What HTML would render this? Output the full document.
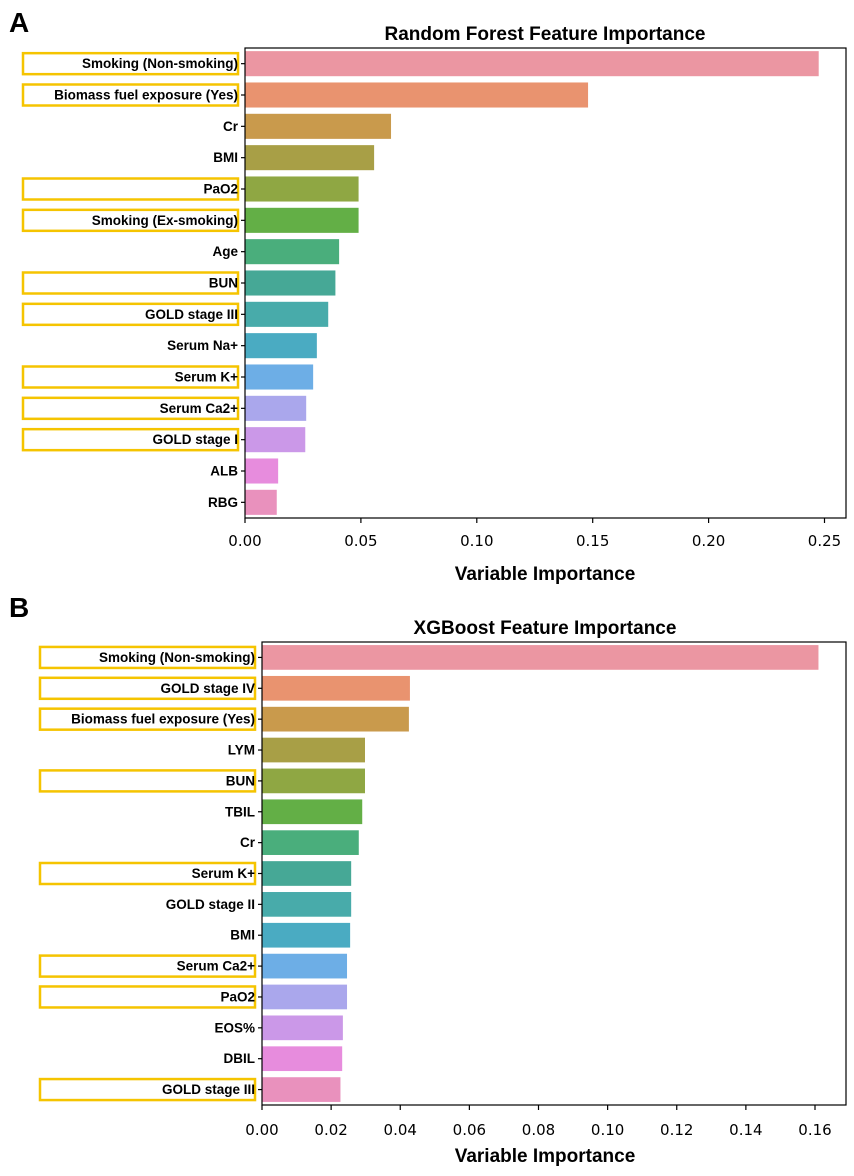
<!DOCTYPE html>
<html><head><meta charset="utf-8"><style>
body{margin:0;background:#fff;width:854px;height:1171px;overflow:hidden;font-family:"Liberation Sans",sans-serif}
</style></head><body>
<svg id="s" width="854" height="1171" xmlns="http://www.w3.org/2000/svg"></svg>
<script>
const catsA=["Smoking (Non-smoking)","Biomass fuel exposure (Yes)","Cr","BMI","PaO2","Smoking (Ex-smoking)","Age","BUN","GOLD stage III","Serum Na+","Serum K+","Serum Ca2+","GOLD stage I","ALB","RBG"];
const valsA=[0.2475,0.148,0.063,0.0557,0.049,0.049,0.0406,0.039,0.0359,0.031,0.0294,0.0264,0.026,0.0143,0.0137];
const hlA=[1,1,0,0,1,1,0,1,1,0,1,1,1,0,0];
const ticksA=["0.00","0.05","0.10","0.15","0.20","0.25"];
const tickValsA=[0,0.05,0.10,0.15,0.20,0.25];
const catsB=["Smoking (Non-smoking)","GOLD stage IV","Biomass fuel exposure (Yes)","LYM","BUN","TBIL","Cr","Serum K+","GOLD stage II","BMI","Serum Ca2+","PaO2","EOS%","DBIL","GOLD stage III"];
const valsB=[0.161,0.0428,0.0425,0.0298,0.0298,0.029,0.028,0.0258,0.0258,0.0255,0.0246,0.0246,0.0234,0.0232,0.0227];
const hlB=[1,1,1,0,1,0,0,1,0,0,1,1,0,0,1];
const ticksB=["0.00","0.02","0.04","0.06","0.08","0.10","0.12","0.14","0.16"];
const tickValsB=[0,0.02,0.04,0.06,0.08,0.10,0.12,0.14,0.16];
const colors=["#eb96a2","#e9936f","#c99a4c","#a89f46","#8fa743","#63af46","#4aae7c","#46a896","#48abaa","#4aabc2","#6daee6","#aaa7ec","#cb98e8","#e78cdd","#e991bd"];
const NS="http://www.w3.org/2000/svg";
const svg=document.getElementById('s');
function mk(t,a,txt){const e=document.createElementNS(NS,t);for(const k in a)e.setAttribute(k,a[k]);if(txt!==undefined)e.textContent=txt;svg.appendChild(e);return e;}
function panel(p){
  const n=p.cats.length, step=(p.bottom-p.top)/n;
  const x=v=>p.left+(v-p.min)/(p.max-p.min)*(p.xmaxPx-p.left);
  const y=i=>p.top+step*(i+0.5);
  let e=mk('text',{x:p.titleX,y:p.titleY,'text-anchor':'middle','font-size':'19','font-weight':'bold'},p.title);
  
  
  p.cats.forEach((c,i)=>{
    const r=mk('rect',{x:x(0),y:y(i)-step*0.4,width:x(p.vals[i])-x(0),height:step*0.8,fill:colors[i]});
    
    
    if(p.hl[i]){const b=mk('rect',{x:p.boxL,y:y(i)-10.5,width:p.left-7-p.boxL,height:21,fill:'none',stroke:'#f5c400','stroke-width':'2.5'});
      
      }
    mk('line',{x1:p.left-4,x2:p.left,y1:y(i),y2:y(i),stroke:'#000','stroke-width':'1.2'});
    const t=mk('text',{x:p.left-7,y:y(i)+4.5,'text-anchor':'end','font-size':'13.5','font-weight':'bold'},c);
    
    
  });
  const f=mk('rect',{x:p.left,y:p.top,width:p.right-p.left,height:p.bottom-p.top,fill:'none',stroke:'#000','stroke-width':'1.2'});
  
  
  p.ticks.forEach((t,i)=>{
    const xx=x(p.tickVals[i]);
    mk('line',{x1:xx,x2:xx,y1:p.bottom,y2:p.bottom+5,stroke:'#000','stroke-width':'1.2'});
    const tl=mk('text',{x:xx,y:p.bottom+p.tickOff,'text-anchor':'middle','font-size':'15','font-family':'DejaVu Sans, sans-serif'},t);
    
    
  });
  const xl=mk('text',{x:p.titleX,y:p.bottom+p.xlOff,'text-anchor':'middle','font-size':'19','font-weight':'bold'},'Variable Importance');
  
  
  const L=mk('text',{x:9,y:p.letterY,'font-size':'28','font-weight':'bold'},p.letter);
  
  
}
panel({id:'rf',cats:catsA,vals:valsA,hl:hlA,ticks:ticksA,tickVals:tickValsA,left:245,right:846,top:48,bottom:518,min:0,max:0.25,xmaxPx:824.5,boxL:23,title:'Random Forest Feature Importance',titleX:545,titleY:40,letter:'A',letterY:32,tickOff:28,xlOff:62});
panel({id:'xgb',cats:catsB,vals:valsB,hl:hlB,ticks:ticksB,tickVals:tickValsB,left:262,right:846,top:642,bottom:1105,min:0,max:0.16,xmaxPx:815,boxL:40,title:'XGBoost Feature Importance',titleX:545,titleY:634,letter:'B',letterY:617,tickOff:30,xlOff:57});
</script>
</body></html>
